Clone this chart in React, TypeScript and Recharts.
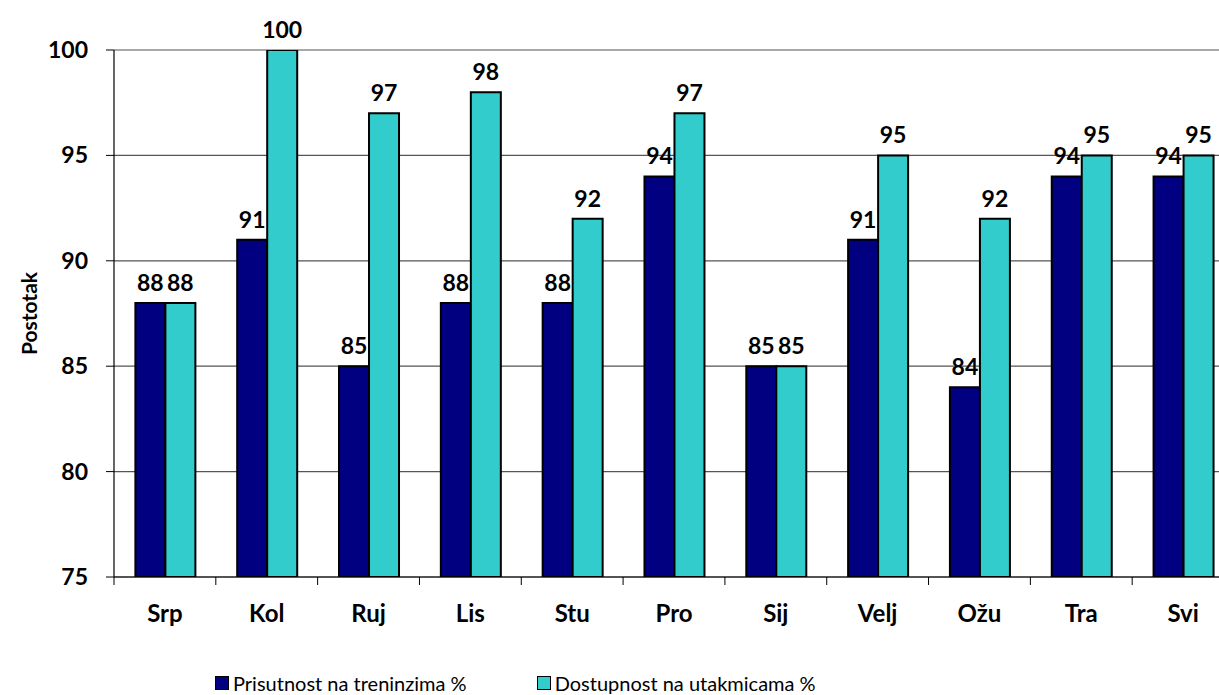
import React from "react";
import {
  BarChart,
  Bar,
  XAxis,
  YAxis,
  CartesianGrid,
  Legend,
  LabelList,
  Label,
} from "recharts";

const months = ["Srp", "Kol", "Ruj", "Lis", "Stu", "Pro", "Sij", "Velj", "Ožu", "Tra", "Svi"];
const training = [88, 91, 85, 88, 88, 94, 85, 91, 84, 94, 94];
const matches = [88, 100, 97, 98, 92, 97, 85, 95, 92, 95, 95];
const yTicks = [75, 80, 85, 90, 95, 100];

const seriesNames = ["Prisutnost na treninzima %", "Dostupnost na utakmicama %"];
const colors = ["#000080", "#33CCCC"];

const data = months.map((m, i) => ({ month: m, training: training[i], matches: matches[i] }));

const FONT = "Lato, 'Open Sans', sans-serif";

const XTick = (props: any) => {
  const { x, y, payload } = props;
  const off = payload && payload.offset ? payload.offset : 0;
  return (
    <g>
      <line x1={x - off} x2={x - off} y1={y - 8} y2={y} stroke="#000" strokeWidth={1} />
      <text
        x={x}
        y={y + 37}
        textAnchor="middle"
        fontFamily={FONT}
        fontWeight={700}
        fontSize={24}
        fill="#000"
      >
        {payload.value}
      </text>
    </g>
  );
};

const YTick = (props: any) => {
  const { x, y, payload } = props;
  return (
    <text
      x={x}
      y={y + 8}
      textAnchor="end"
      fontFamily={FONT}
      fontWeight={700}
      fontSize={23}
      fill="#000"
    >
      {payload.value}
    </text>
  );
};

const YLabel = (props: any) => {
  const { viewBox } = props;
  const cy = viewBox.y + viewBox.height / 2;
  const cx = 28;
  return (
    <text
      x={cx}
      y={cy}
      transform={`rotate(-90 ${cx} ${cy})`}
      textAnchor="middle"
      dominantBaseline="central"
      fontFamily={FONT}
      fontWeight={700}
      fontSize={21}
      fill="#000"
    >
      Postotak
    </text>
  );
};

const LegendContent = () => (
  <div style={{ display: "flex", fontFamily: FONT, fontSize: 20, color: "#000", lineHeight: "24px" }}>
    {seriesNames.map((n, i) => (
      <div key={n} style={{ display: "flex", alignItems: "center", marginRight: i === 0 ? 70 : 0 }}>
        <span
          style={{
            display: "inline-block",
            width: 12,
            height: 12,
            background: colors[i],
            border: "1.5px solid #000",
            marginRight: 4,
          }}
        />
        <span>{n}</span>
      </div>
    ))}
  </div>
);

const labelStyle = { fontFamily: FONT, fontWeight: 700, fontSize: 23, fill: "#000" };

export default function App() {
  return (
    <div
      style={{
        position: "absolute",
        left: 0,
        top: 0,
        width: 1219,
        height: 695,
        overflow: "hidden",
        background: "#fff",
      }}
    >
      <BarChart
        width={1240}
        height={695}
        data={data}
        margin={{ top: 50, right: 6, bottom: 0, left: 0 }}
        barCategoryGap="21%"
        barGap={0}
      >
        <CartesianGrid vertical={false} stroke="#555" strokeWidth={1.2} />
        <XAxis
          dataKey="month"
          tick={<XTick />}
          tickLine={false}
          tickSize={8}
          tickMargin={0}
          height={88}
          axisLine={{ stroke: "#000", strokeWidth: 1.2 }}
          interval={0}
        />
        <YAxis
          width={114}
          domain={[75, 100]}
          ticks={yTicks}
          allowDataOverflow
          tickSize={8}
          tickMargin={18}
          tickLine={{ stroke: "#000" }}
          axisLine={{ stroke: "#000", strokeWidth: 1.2 }}
          tick={<YTick />}
        >
          <Label content={<YLabel />} />
        </YAxis>
        <Legend
          verticalAlign="bottom"
          content={<LegendContent />}
          wrapperStyle={{ left: 215, width: 800, height: 30, bottom: -6 }}
        />
        <Bar dataKey="training" name={seriesNames[0]} fill={colors[0]} stroke="#000" strokeWidth={2} isAnimationActive={false}>
          <LabelList dataKey="training" position="top" offset={12} style={labelStyle} />
        </Bar>
        <Bar dataKey="matches" name={seriesNames[1]} fill={colors[1]} stroke="#000" strokeWidth={2} isAnimationActive={false}>
          <LabelList dataKey="matches" position="top" offset={12} style={labelStyle} />
        </Bar>
      </BarChart>
    </div>
  );
}
